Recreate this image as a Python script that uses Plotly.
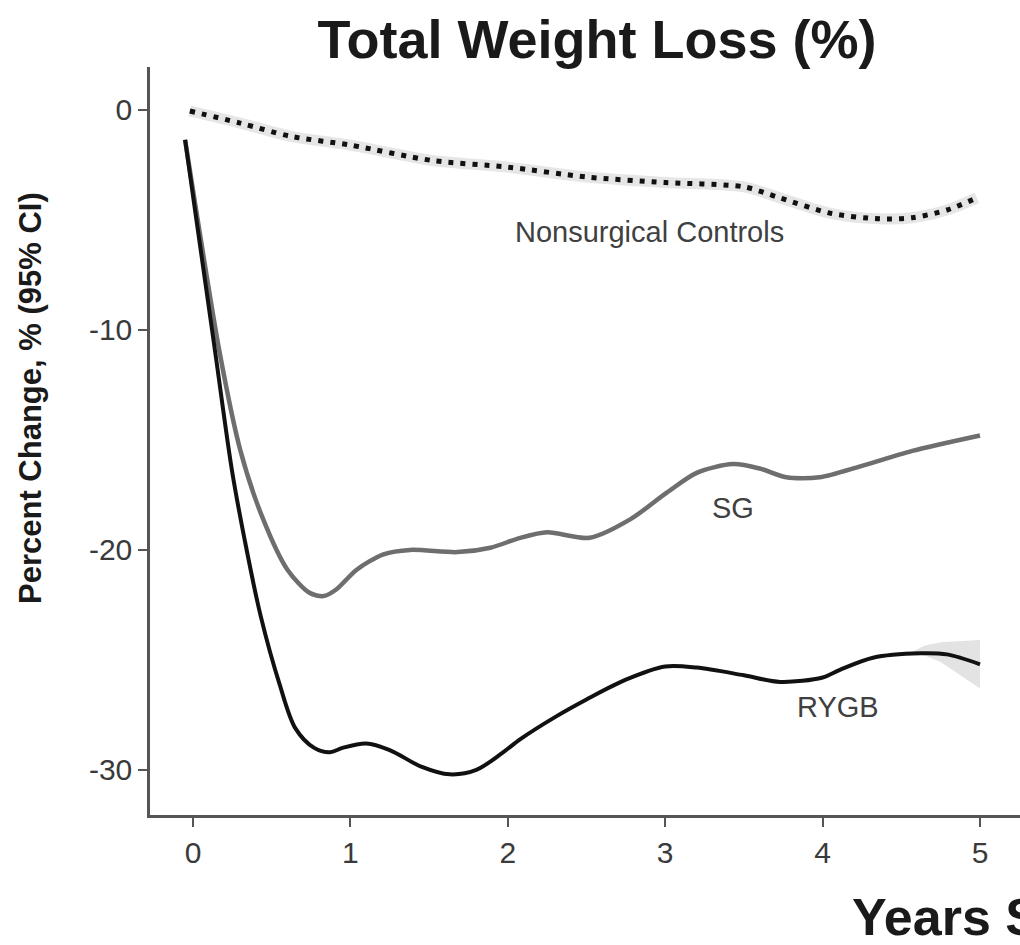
import plotly.graph_objects as go

# ---- data ----
years_rygb = [-0.05, 0.022, 0.142, 0.248, 0.33, 0.43, 0.55, 0.65, 0.77, 0.87, 0.95, 1.1, 1.25, 1.45,
              1.63, 1.8, 1.97, 2.08, 2.3, 2.5, 2.75, 3.0, 3.2, 3.5, 3.73, 4.0, 4.11, 4.32, 4.62, 4.79, 5.0]
rygb = [-1.36, -5.0, -11.05, -16.4, -19.6, -23.0, -26.1, -28.1, -29.0, -29.2, -29.0, -28.8, -29.1, -29.85,
        -30.2, -30.0, -29.2, -28.6, -27.6, -26.8, -25.9, -25.3, -25.35, -25.7, -26.0, -25.8, -25.45, -24.9,
        -24.7, -24.75, -25.2]

years_sg = [-0.05, 0.03, 0.17, 0.30, 0.44, 0.6, 0.74, 0.83, 0.91, 1.04, 1.21, 1.38, 1.68, 1.89, 2.08,
            2.25, 2.52, 2.78, 3.01, 3.2, 3.43, 3.6, 3.77, 3.98, 4.24, 4.57, 5.0]
sg = [-1.36, -5.0, -11.05, -15.45, -18.5, -20.9, -21.95, -22.1, -21.8, -20.9, -20.2, -20.0, -20.1, -19.9,
      -19.45, -19.2, -19.45, -18.6, -17.4, -16.5, -16.1, -16.3, -16.7, -16.7, -16.2, -15.5, -14.8]

years_ctrl = [-0.02, 0.3, 0.62, 1.0, 1.52, 2.0, 2.5, 3.0, 3.5, 3.73, 4.05, 4.36, 4.57, 4.79, 4.98]
ctrl = [-0.05, -0.6, -1.2, -1.6, -2.3, -2.6, -3.05, -3.3, -3.5, -4.0, -4.7, -4.95, -4.9, -4.55, -4.0]

# RYGB 95% CI band near the end
ci_years = [4.55, 4.65, 4.75, 5.0]
rygb_ci_upper = [-24.7, -24.35, -24.2, -24.1]
rygb_ci_lower = [-24.7, -24.8, -25.1, -26.3]

y_tickvals = [2, 0, -10, -20, -30]
y_ticktext = ["", "0", "-10", "-20", "-30"]
x_tickvals = [0, 1, 2, 3, 4, 5]
x_ticktext = ["0", "1", "2", "3", "4", "5"]

FONT = "Liberation Sans, Arial, sans-serif"

fig = go.Figure()

# RYGB CI band
fig.add_trace(go.Scatter(
    x=ci_years + ci_years[::-1], y=rygb_ci_upper + rygb_ci_lower[::-1],
    fill="toself", fillcolor="#e3e3e3", line=dict(width=0), mode="lines",
    hoverinfo="skip", showlegend=False))

# Nonsurgical controls: light CI halo + dotted line
fig.add_trace(go.Scatter(
    x=years_ctrl, y=ctrl, mode="lines",
    line=dict(color="#e6e6e6", width=11, shape="spline", smoothing=0.8),
    hoverinfo="skip", showlegend=False))
fig.add_trace(go.Scatter(
    x=years_ctrl, y=ctrl, mode="lines", name="Nonsurgical Controls",
    line=dict(color="#111111", width=5, dash="5px,7px", shape="spline", smoothing=0.8),
    showlegend=False))

# SG
fig.add_trace(go.Scatter(
    x=years_sg, y=sg, mode="lines", name="SG",
    line=dict(color="#6e6e6e", width=4.5, shape="spline", smoothing=0.8),
    showlegend=False))

# RYGB
fig.add_trace(go.Scatter(
    x=years_rygb, y=rygb, mode="lines", name="RYGB",
    line=dict(color="#111111", width=4, shape="spline", smoothing=0.9),
    showlegend=False))

label_font = dict(family=FONT, size=29, color="#404040")
fig.add_annotation(x=2.9, y=-5.55, text="Nonsurgical Controls", showarrow=False, font=label_font)
fig.add_annotation(x=3.43, y=-18.1, text="SG", showarrow=False, font=label_font)
fig.add_annotation(x=4.1, y=-27.15, text="RYGB", showarrow=False, font=label_font)

# y-axis title placed as in the reference (far left)
fig.add_annotation(xref="paper", yref="paper", x=(30 - 150) / 870, y=(815 - 398) / 748,
                   xanchor="center", yanchor="middle", textangle=-90,
                   text="<b>Percent Change, % (95% CI)</b>", showarrow=False,
                   font=dict(family=FONT, size=31, color="#1a1a1a"))

# x-axis title (cut off at the right edge, as in the reference)
fig.add_annotation(xref="paper", yref="paper", x=0.8046, y=-0.137, xanchor="left", yanchor="middle",
                   text="<b>Years Since Surgery</b>", showarrow=False,
                   font=dict(family=FONT, size=52, color="#1a1a1a"))

fig.update_layout(
    width=1020, height=945,
    margin=dict(l=150, r=0, t=67, b=130),
    paper_bgcolor="white", plot_bgcolor="white",
    title=dict(text="<b>Total Weight Loss (%)</b>", x=597 / 1020, xanchor="center",
               y=1 - 39 / 945, yanchor="middle",
               font=dict(family=FONT, size=54, color="#1a1a1a")),
    showlegend=False,
)

fig.update_xaxes(
    range=[-0.273, 5.254], showgrid=False, zeroline=False,
    showline=True, linecolor="#555555", linewidth=2.5,
    ticks="outside", ticklen=9, tickwidth=2, tickcolor="#555555",
    tickvals=x_tickvals, ticktext=x_ticktext,
    tickfont=dict(family=FONT, size=30, color="#3a3a3a"),
)
fig.update_yaxes(
    range=[-32.05, 1.95], showgrid=False, zeroline=False,
    showline=True, linecolor="#555555", linewidth=2.5,
    ticks="outside", ticklen=9, tickwidth=2, tickcolor="#555555",
    tickvals=y_tickvals, ticktext=y_ticktext,
    tickfont=dict(family=FONT, size=30, color="#3a3a3a"),
)

fig.write_html("out.html")
